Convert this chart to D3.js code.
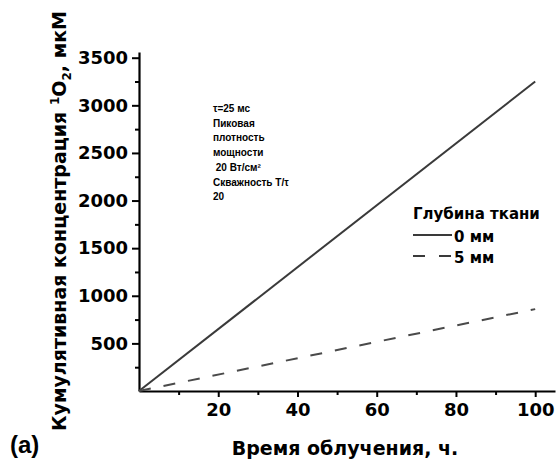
<!DOCTYPE html>
<html>
<head>
<meta charset="utf-8">
<script src="https://cdn.jsdelivr.net/npm/d3@7"></script>
<style>
  body { margin: 0; background: #fff; }
</style>
</head>
<body>
<div id="vis"></div>
<script>
const FRAME_WIDTH = 556;
const FRAME_HEIGHT = 461;
const MARGINS = {left: 139, right: 1, top: 52, bottom: 70};

const VIS_WIDTH = FRAME_WIDTH - MARGINS.left - MARGINS.right;
const VIS_HEIGHT = FRAME_HEIGHT - MARGINS.top - MARGINS.bottom;

const WIDE_FONT = "'DejaVu Sans', sans-serif";
const ARIAL = "'Liberation Sans', Arial, sans-serif";

// data
const hours = [0, 100];
const depth0 = [0, 3250];
const depth5 = [0, 860];
const seriesNames = ["0 мм", "5 мм"];
const xTicks = [20, 40, 60, 80, 100];
const yTicks = [500, 1000, 1500, 2000, 2500, 3000, 3500];
const note = ["τ=25 мс", "Пиковая", "плотность", "мощности", " 20 Вт/см²", "Скважность Т/τ", "20"];

const FRAME = d3.select("#vis")
  .append("svg")
  .attr("width", FRAME_WIDTH)
  .attr("height", FRAME_HEIGHT);

const X_SCALE = d3.scaleLinear().domain([0, 105]).range([0, VIS_WIDTH]);
const Y_SCALE = d3.scaleLinear().domain([0, 3560]).range([VIS_HEIGHT, 0]);

const G = FRAME.append("g")
  .attr("transform", "translate(" + MARGINS.left + "," + MARGINS.top + ")");

// minor ticks
const xMinor = d3.range(10, 101, 20);
const yMinor = d3.range(250, 3500, 500);

G.append("g")
  .attr("transform", "translate(0," + VIS_HEIGHT + ")")
  .call(d3.axisBottom(X_SCALE).tickValues(xMinor).tickSize(4).tickFormat(""))
  .call(g => g.select(".domain").remove())
  .selectAll("line").attr("stroke-width", 2);

G.append("g")
  .call(d3.axisLeft(Y_SCALE).tickValues(yMinor).tickSize(4).tickFormat(""))
  .call(g => g.select(".domain").remove())
  .selectAll("line").attr("stroke-width", 2);

// main axes
const xAxis = G.append("g")
  .attr("transform", "translate(0," + VIS_HEIGHT + ")")
  .call(d3.axisBottom(X_SCALE).tickValues(xTicks).tickFormat(d3.format("d"))
    .tickSize(6).tickSizeOuter(0).tickPadding(6));

const yAxis = G.append("g")
  .call(d3.axisLeft(Y_SCALE).tickValues(yTicks).tickFormat(d3.format("d"))
    .tickSize(7).tickSizeOuter(0).tickPadding(4));

[xAxis, yAxis].forEach(a => {
  a.select(".domain").attr("stroke-width", 2.2);
  a.selectAll(".tick line").attr("stroke-width", 2);
  a.selectAll("text")
    .attr("fill", "#000")
    .style("font-size", "18px")
    .style("font-weight", "bold")
    .style("font-family", WIDE_FONT);
});

// lines
const line = d3.line()
  .x((d, i) => X_SCALE(hours[i]))
  .y(d => Y_SCALE(d));

G.append("path")
  .datum(depth0)
  .attr("d", line)
  .attr("fill", "none")
  .attr("stroke", "#3a3a3a")
  .attr("stroke-width", 2);

G.append("path")
  .datum(depth5)
  .attr("d", line)
  .attr("fill", "none")
  .attr("stroke", "#4a4a4a")
  .attr("stroke-width", 2)
  .attr("stroke-dasharray", "12,13");

// annotation
const noteText = FRAME.append("text")
  .attr("x", 213)
  .attr("y", 112)
  .style("font-size", "10px")
  .style("font-weight", "bold")
  .style("font-family", ARIAL);
noteText.selectAll("tspan")
  .data(note)
  .enter()
  .append("tspan")
  .attr("x", 213)
  .attr("dy", (d, i) => i === 0 ? 0 : 14.7)
  .style("white-space", "pre")
  .text(d => d);

// legend
FRAME.append("text")
  .attr("x", 413)
  .attr("y", 219)
  .style("font-size", "15px")
  .style("font-weight", "bold")
  .style("font-family", WIDE_FONT)
  .text("Глубина ткани");

const legend = FRAME.selectAll(".leg")
  .data(seriesNames)
  .enter()
  .append("g")
  .attr("class", "leg")
  .attr("transform", (d, i) => "translate(413," + (235 + i * 21) + ")");

legend.append("line")
  .attr("x1", 0).attr("x2", 39)
  .attr("y1", 0).attr("y2", 0)
  .attr("stroke", "#3a3a3a")
  .attr("stroke-width", 2)
  .attr("stroke-dasharray", (d, i) => i === 0 ? null : "12,14");

legend.append("text")
  .attr("x", 41)
  .attr("y", 6.5)
  .style("font-size", "15px")
  .style("font-weight", "bold")
  .style("font-family", WIDE_FONT)
  .text(d => d);

// axis titles
FRAME.append("text")
  .attr("x", 345)
  .attr("y", 455)
  .attr("text-anchor", "middle")
  .style("font-size", "19px")
  .style("font-weight", "bold")
  .style("font-family", WIDE_FONT)
  .text("Время облучения, ч.");

const yTitle = FRAME.append("text")
  .attr("transform", "translate(66,221) rotate(-90)")
  .attr("text-anchor", "middle")
  .style("font-size", "19px")
  .style("font-weight", "bold")
  .style("font-family", WIDE_FONT);
yTitle.append("tspan").text("Кумулятивная концентрация ");
yTitle.append("tspan").style("font-size", "12px").attr("dy", -7).text("1");
yTitle.append("tspan").attr("dy", 7).text("O");
yTitle.append("tspan").style("font-size", "12px").attr("dy", 5).text("2");
yTitle.append("tspan").attr("dy", -5).text(", мкМ");

FRAME.append("text")
  .attr("x", 10)
  .attr("y", 453)
  .style("font-size", "24px")
  .style("font-weight", "bold")
  .style("font-family", ARIAL)
  .text("(a)");
</script>
</body>
</html>
